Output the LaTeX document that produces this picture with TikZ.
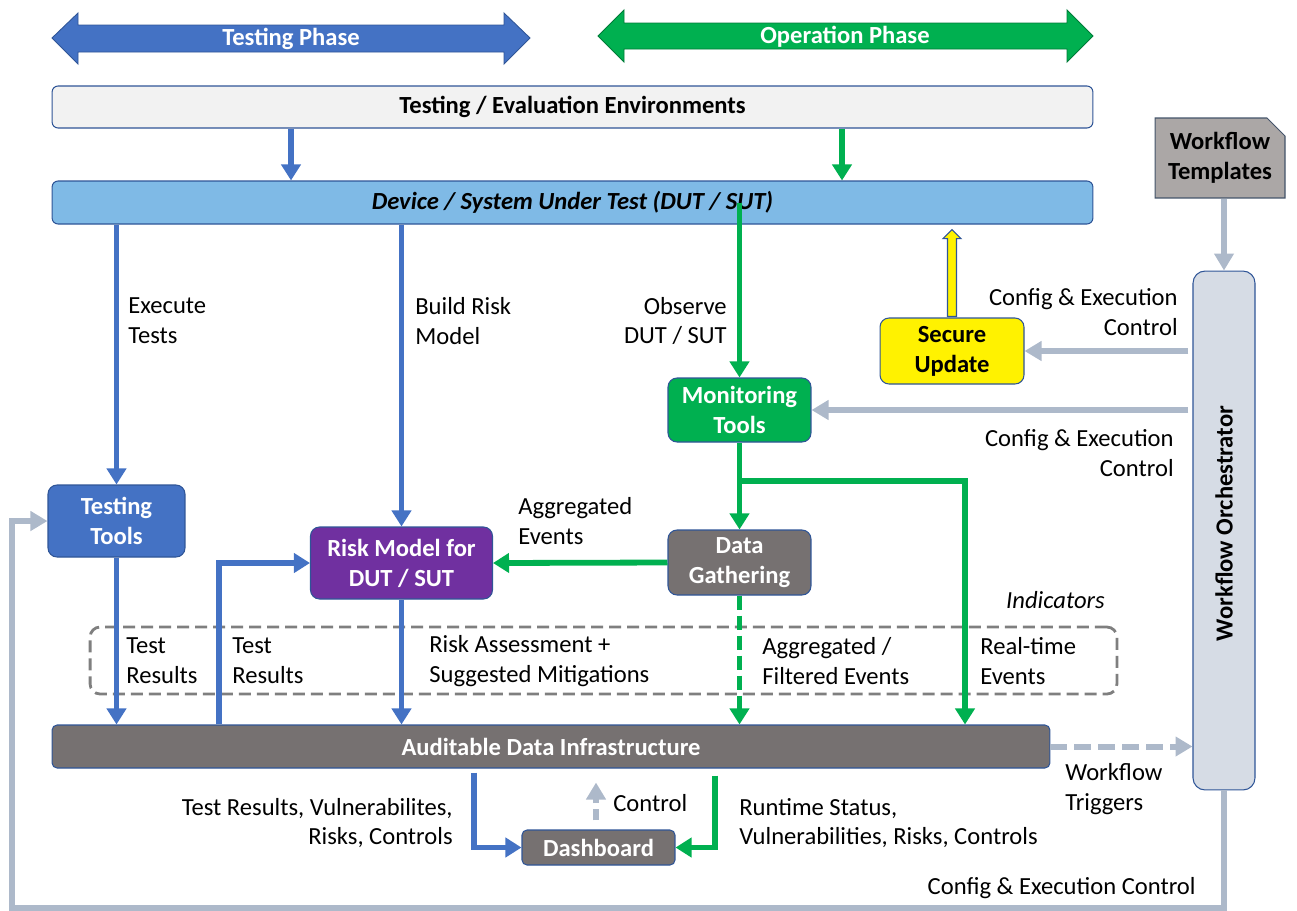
\documentclass[tikz,border=0pt]{standalone}
\usepackage{fontspec}
\setmainfont{Carlito}
\usetikzlibrary{positioning,arrows.meta,shapes.misc,calc}
\definecolor{phaseblue}{HTML}{4472C4}
\definecolor{phasegreen}{HTML}{00B050}
\definecolor{boxline}{HTML}{2F5597}
\definecolor{envfill}{HTML}{F2F2F2}
\definecolor{dutfill}{HTML}{7FBAE6}
\definecolor{tplfill}{HTML}{ABA7A6}
\definecolor{tplline}{HTML}{44546A}
\definecolor{orchfill}{HTML}{D6DCE5}
\definecolor{darkfill}{HTML}{767171}
\definecolor{riskfill}{HTML}{7030A0}
\definecolor{ctrlgray}{HTML}{ADB9CA}
\definecolor{indgray}{HTML}{7F7F7F}

\begin{document}
\begin{tikzpicture}[x=0.02cm, y=-0.02cm, font=\fontsize{14}{17}\selectfont]
	% Define styles for boxes and arrows
	\tikzset{
		box/.style={
			rectangle,
			rounded corners=0.18cm,
			draw=boxline,
			line width=0.6pt,
			text=white,
			font=\fontsize{14}{17}\selectfont\bfseries,
			align=center,
			inner sep=0pt
		},
		barbox/.style={
			rectangle,
			rounded corners=0.12cm,
			draw=boxline,
			line width=0.6pt,
			minimum width=20.82cm,
			minimum height=0.86cm,
			font=\fontsize{14}{17}\selectfont\bfseries
		},
		bluearrow/.style={draw=phaseblue, line width=3.3pt, -{Triangle[length=0.32cm, width=0.38cm]}},
		greenarrow/.style={draw=phasegreen, line width=3.3pt, -{Triangle[length=0.32cm, width=0.38cm]}},
		grayarrow/.style={draw=ctrlgray, line width=3.4pt, -{Triangle[length=0.34cm, width=0.38cm]}},
		phasetext/.style={text=white, font=\fontsize{14}{17}\selectfont\bfseries, inner sep=0pt},
		note/.style={inner sep=0pt, align=left}
	}
	\useasboundingbox (0,0) rectangle (1297,910);

	% Phase arrows
	\filldraw[fill=phaseblue, draw=boxline, line width=0.5pt] (52,38) -- (78,13) -- (78,25) -- (504,25) -- (504,13) -- (530,38) -- (504,64) -- (504,52) -- (78,52) -- (78,64) -- cycle;
	\node[phasetext] (testphase) at (291,39) {Testing Phase};
	\filldraw[fill=phasegreen, draw=phasegreen!70!black, line width=0.5pt] (598,36) -- (624,10) -- (624,23) -- (1067,23) -- (1067,10) -- (1093,36) -- (1067,62) -- (1067,49) -- (624,49) -- (624,62) -- cycle;
	\node[phasetext] (opphase) at (845,37) {Operation Phase};

	% Environment and system under test
	\node[barbox, fill=envfill, minimum height=0.84cm] (env) at (572.5,107) {Testing / Evaluation Environments};
	\node[barbox, fill=dutfill] (dut) at (572.5,202.5) {\itshape Device / System Under Test (DUT / SUT)};
	\draw[bluearrow] (env.south -| testphase) -- (dut.north -| testphase);
	\draw[greenarrow] ([xshift=-0.06cm]env.south -| opphase) -- ([xshift=-0.06cm]dut.north -| opphase);

	% Tools
	\node[box, fill=phaseblue, minimum width=2.74cm, minimum height=1.44cm] (tt) at (116.5,521) {Testing\\Tools};
	\node[box, fill=riskfill, minimum width=3.64cm, minimum height=1.44cm] (risk) at (401.5,563) {Risk Model for\\DUT / SUT};
	\node[box, fill=phasegreen, minimum width=2.86cm, minimum height=1.28cm] (mon) at (739.5,410) {Monitoring\\Tools};
	\node[box, fill=darkfill, minimum width=2.86cm, minimum height=1.3cm] (dg) at (739.5,562.5) {Data\\Gathering};
	\node[box, fill=yellow, text=black, minimum width=2.88cm, minimum height=1.32cm] (su) at (952,351) {Secure\\Update};

	% Workflow side
	\node[box, fill=tplfill, text=black, rounded corners=0pt, draw=tplline, chamfered rectangle, chamfered rectangle corners=north east, chamfered rectangle sep=0.18cm, minimum width=2.6cm, minimum height=1.6cm] (wt) at (1220,158) {Workflow\\Templates};
	\node[box, fill=orchfill, rounded corners=0.24cm, minimum width=1.24cm, minimum height=10.38cm] (orch) at (1224,530.5) {};
	\node[rotate=90, font=\fontsize{14}{17}\selectfont\bfseries] (orchtext) at ([yshift=0.14cm]orch.center) {Workflow Orchestrator};

	% Indicators frame
	\node[draw=indgray, line width=1.6pt, dash pattern=on 0.24cm off 0.12cm, rounded corners=0.2cm, minimum width=20.54cm, minimum height=1.34cm] (ind) at (603.5,660.5) {};
	\node[note, anchor=east, font=\fontsize{14}{17}\selectfont\itshape] (indtext) at (1105,600) {Indicators};

	% Data infrastructure and dashboard
	\node[box, fill=darkfill, rounded corners=0.1cm, minimum width=19.96cm, minimum height=0.86cm] (adi) at (551,746.5) {Auditable Data Infrastructure};
	\node[box, fill=darkfill, rounded corners=0.1cm, minimum width=3.06cm, minimum height=0.7cm] (dash) at (598.5,847.5) {Dashboard};

	% Free ends of connectors
	\coordinate (trx) at (219,0);
	\coordinate (rtx) at (965,0);
	\coordinate (resx) at (474,0);
	\coordinate (runx) at (715,0);
	\coordinate (branch) at (740,481);
	\coordinate (loopcorner) at (12,908);

	% Arrows out of the system under test
	\draw[bluearrow] (tt.north |- dut.south) -- (tt.north);
	\draw[bluearrow] (risk.north |- dut.south) -- (risk.north);
	\draw[greenarrow] (mon.north |- dut.center) -- (mon.north);
	\draw[fill=yellow, draw=boxline, line width=0.6pt]
		($(su.north |- dut.south)+(0,5)$) -- ($(su.north |- dut.south)+(9,14)$) -- ($(su.north |- dut.south)+(4.5,14)$)
		-- ($(su.north)+(4.5,-1)$) -- ($(su.north)+(-4.5,-1)$)
		-- ($(su.north |- dut.south)+(-4.5,14)$) -- ($(su.north |- dut.south)+(-9,14)$) -- cycle;

	% Monitoring and gathering
	\draw[greenarrow] (mon.south) -- (dg.north);
	\draw[greenarrow] (branch) -| (adi.north -| rtx);
	\draw[greenarrow] (dg.west) -- (risk.east);
	\draw[greenarrow, dash pattern=on 0.28cm off 0.12cm] (dg.south) -- (dg.south |- adi.north);

	% Results into the data infrastructure
	\draw[bluearrow] (tt.south) -- (tt.south |- adi.north);
	\draw[bluearrow] (adi.north -| trx) |- (risk.west);
	\draw[bluearrow] (risk.south) -- (risk.south |- adi.north);

	% Dashboard
	\draw[bluearrow, shorten <=0.08cm] (adi.south -| resx) |- (dash.west);
	\draw[greenarrow, shorten <=0.14cm] (adi.south -| runx) |- (dash.east);
	\draw[grayarrow, dash pattern=on 0.22cm off 0.12cm, shorten <=0.18cm, shorten >=0.28cm] ([xshift=-0.05cm]dash.north) -- ([xshift=-0.05cm]dash.north |- adi.south);

	% Orchestrator connections
	\draw[grayarrow] (wt.south -| orch.north) -- (orch.north);
	\draw[grayarrow, shorten <=0.08cm] (orch.west |- su.east) -- (su.east);
	\draw[grayarrow, shorten <=0.08cm] (orch.west |- mon.east) -- (mon.east);
	\draw[grayarrow, dash pattern=on 0.34cm off 0.14cm] (adi.east) -- (adi.east -| orch.west);
	\draw[grayarrow] (orch.south) |- (loopcorner) |- (tt.west);

	% Connector labels
	\node[note, anchor=west] (lexec) at (128,321) {Execute\\Tests};
	\node[note, anchor=west] (lbuild) at (415,321) {Build Risk\\Model};
	\node[note, anchor=east, align=right] (lobs) at (727,321) {Observe\\DUT / SUT};
	\node[note, anchor=east, align=right] (lcfg1) at (1178,312) {Config \& Execution\\Control};
	\node[note, anchor=east, align=right] (lcfg2) at (1174,453) {Config \& Execution\\Control};
	\node[note, anchor=west] (lagg) at (518,521) {Aggregated\\Events};
	\node[note, anchor=west] (ltr1) at (126,661) {Test\\Results};
	\node[note, anchor=west] (ltr2) at (232,661) {Test\\Results};
	\node[note, anchor=west] (lrisk) at (429,661) {Risk Assessment +\\Suggested Mitigations};
	\node[note, anchor=west] (lfilt) at (762,661) {Aggregated /\\Filtered Events};
	\node[note, anchor=west] (lrt) at (980,661) {Real-time\\Events};
	\node[note, anchor=west] (ltrig) at (1065,789) {Workflow\\Triggers};
	\node[note, anchor=east, align=right] (lres) at (453,823) {Test Results, Vulnerabilites,\\Risks, Controls};
	\node[note, anchor=west] (lctrl) at (613,803) {Control};
	\node[note, anchor=west] (lrun) at (739,823) {Runtime Status,\\Vulnerabilities, Risks, Controls};
	\node[note, anchor=east] (lcfg3) at (1196,888) {Config \& Execution Control};
\end{tikzpicture}
\end{document}
